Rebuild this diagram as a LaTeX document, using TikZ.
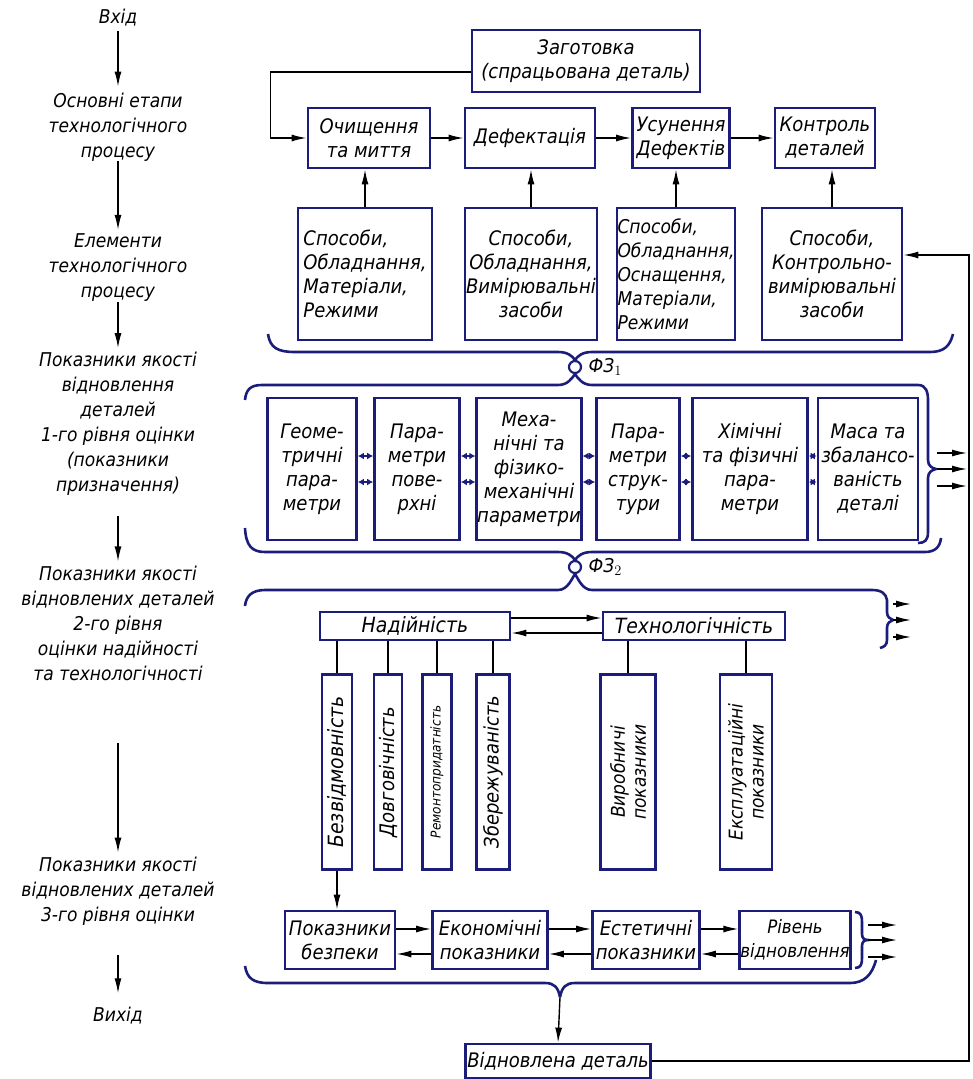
\documentclass[tikz,border=0pt]{standalone}
\usepackage{fontspec}
\setmainfont{DejaVu Sans}[FakeStretch=0.9]
\usetikzlibrary{arrows.meta,positioning}
\definecolor{ink}{HTML}{1C1C7A}
\tikzset{
  blk/.style   = {draw=ink, line width=2.8pt, fill=white, align=center, inner sep=0.5pt, font=\itshape\fontsize{20}{24}\selectfont},
  arr/.style   = {black, ->, >={Latex[length=15pt,width=7pt]}, line width=1.4pt},
  link/.style  = {ink, <->, >={Latex[length=6pt,width=7pt]}, line width=2.4pt},
  tie/.style   = {black, line width=1.4pt},
  brace/.style = {ink, line width=2.6pt},
  knot/.style  = {circle, draw=ink, line width=2.2pt, inner sep=0pt, minimum size=12},
  stage/.style = {align=center, inner sep=0pt, font=\itshape\fontsize{19}{25}\selectfont},
}

\begin{document}
\begin{tikzpicture}[x=1pt,y=-1pt]
      \useasboundingbox (0,0) rectangle (973,1079);

      % stages, left column
      \node[stage] (in) at (118,18) {Вхід};
      \node[stage] (st1) at (118,127) {Основні етапи\\технологічного\\процесу};
      \node[stage] (st2) at (118,268) {Елементи\\технологічного\\процесу};
      \node[stage] (st3) at (118,424) {Показники якості\\відновлення\\деталей\\1-го рівня оцінки\\(показники\\призначення)};
      \node[stage] (st4) at (118,623) {Показники якості\\відновлених деталей\\2-го рівня\\оцінки надійності\\та технологічності};
      \node[stage] (st5) at (118,891) {Показники якості\\відновлених деталей\\3-го рівня оцінки};
      \node[stage] (out) at (118,1016) {Вихід};

      \draw[arr, shorten <=4pt, shorten >=6pt] (in) -- (st1);
      \draw[arr, shorten >=4pt] (st1) -- (st2);
      \draw[arr, shorten >=4pt] (st2) -- (st3);
      \draw[arr, shorten <=20pt, shorten >=4pt] (st3) -- (st4);
      \draw[arr, shorten <=62pt, shorten >=4pt] (st4) -- (st5);
      \draw[arr, shorten <=30pt, shorten >=14pt] (st5) -- (out);

      % process stages
      \node[blk, minimum width=228, minimum height=62] (blank) at (586,61) {Заготовка\\(спрацьована деталь)};
      \node[blk, minimum width=122, minimum height=60] (wash) at (369,138) {Очищення\\та миття};
      \node[blk, minimum width=130, minimum height=60] (defect) at (530,138) {Дефектація};
      \node[blk, minimum width=97, minimum height=60] (repair) at (681,138) {Усунення\\Дефектів};
      \node[blk, minimum width=100, minimum height=60] (check) at (825,138) {Контроль\\деталей};

      \draw[arr] ([yshift=-11pt]blank.west) -- ++(-200,0) |- (wash.west);
      \draw[arr] (wash) -- (defect);
      \draw[arr] (defect) -- (repair);
      \draw[arr] (repair) -- (check);

      % elements of the process
      \node[blk, align=left, minimum width=134, minimum height=132] (tool1) at (365,274) {Способи,\\Обладнання,\\Матеріали,\\Режими};
      \node[blk, minimum width=132, minimum height=132] (tool2) at (531,274) {Способи,\\Обладнання,\\Вимірювальні\\засоби};
      \node[blk, align=left, minimum width=118, minimum height=132, font=\itshape\fontsize{19}{24}\selectfont] (tool3) at (676,274) {Способи,\\Обладнання,\\Оснащення,\\Матеріали,\\Режими};
      \node[blk, minimum width=140, minimum height=132] (tool4) at (832,274) {Способи,\\Контрольно-\\вимірювальні\\засоби};

      \draw[arr] (tool1.north) -- (tool1.north |- wash.south);
      \draw[arr] (tool2.north) -- (tool2.north |- defect.south);
      \draw[arr] (tool3.north) -- (tool3.north |- repair.south);
      \draw[arr] (tool4.north) -- (tool4.north |- check.south);

      % first link
      \node[knot] (fz1) at (575,367) {};
      \node[right=3pt of fz1, font=\itshape\fontsize{19}{20}\selectfont] (fz1t) {ФЗ$_1$};
      \draw[brace] (268,334) .. controls (270,348) and (278,352) .. (295,352) -- (558,352) .. controls (568,352) and (572,356) .. (fz1.north);
      \draw[brace] (fz1.north) .. controls (578,356) and (582,352) .. (592,352) -- (930,352) .. controls (944,352) and (950,346) .. (953,334);
      \draw[brace] (fz1.south) .. controls (572,378) and (568,385) .. (558,385) -- (262,385) .. controls (250,385) and (246,390) .. (245,400);
      \draw[brace] (fz1.south) .. controls (578,378) and (582,385) .. (592,385) -- (918,385) .. controls (926,385) and (928,392) .. (928,400) -- (928,460) .. controls (928,466) and (932,468) .. (936,469) .. controls (932,470) and (928,472) .. (928,478) -- (928,532) .. controls (928,540) and (925,543) .. (918,543);

      % quality indices, level 1
      \begin{scope}[every node/.append style={font=\itshape\fontsize{17.5}{24}\selectfont}]
      \node[blk, minimum width=89, minimum height=142] (geo) at (312,469) {Геоме-\\тричні\\пара-\\метри};
      \node[blk, minimum width=85, minimum height=142] (surf) at (417,469) {Пара-\\метри\\пове-\\рхні};
      \node[blk, minimum width=102, minimum height=142] (mech) at (529,469) {Меха-\\нічні та\\фізико-\\механічні\\параметри};
      \node[blk, minimum width=83, minimum height=142] (struct) at (638,469) {Пара-\\метри\\струк-\\тури};
      \node[blk, minimum width=115, minimum height=142] (chem) at (750,469) {Хімічні\\та фізичні\\пара-\\метри};
      \node[blk, minimum width=100, minimum height=142] (mass) at (868,469) {Маса та\\збалансо-\\ваність\\деталі};
      \end{scope}

      \foreach \a/\b in {geo/surf,surf/mech,mech/struct,struct/chem,chem/mass} {
        \draw[link] ([yshift=13pt]\a.east) -- ([yshift=13pt]\b.west);
        \draw[link] ([yshift=-13pt]\a.east) -- ([yshift=-13pt]\b.west);
      }
      \coordinate (cusp3) at (937,469);
      \foreach \dy in {16,0,-17}
        \draw[arr] ([yshift=\dy pt]cusp3) -- ++(30,0);

      % second link
      \node[knot] (fz2) at (575,567) {};
      \node[right=3pt of fz2, font=\itshape\fontsize{19}{20}\selectfont] (fz2t) {ФЗ$_2$};
      \draw[brace] (245,528) .. controls (246,546) and (252,552) .. (265,552) -- (558,552) .. controls (568,552) and (572,556) .. (fz2.north);
      \draw[brace] (fz2.north) .. controls (578,556) and (582,552) .. (592,552) -- (925,552) .. controls (935,552) and (940,547) .. (941,538);
      \draw[brace] (fz2.south) .. controls (572,578) and (568,590) .. (558,590) -- (265,590) .. controls (252,590) and (246,596) .. (245,606);
      \draw[brace] (fz2.south) .. controls (578,578) and (582,590) .. (592,590) -- (872,590) .. controls (882,590) and (886,594) .. (887,600) -- (887,612) .. controls (887,617) and (890,619) .. (893,620) .. controls (890,621) and (887,623) .. (887,628) -- (887,640) .. controls (887,645) and (884,647) .. (880,648);
      \coordinate (cusp4) at (893,620);
      \foreach \dy in {16,0,-17}
        \draw[arr] ([yshift=\dy pt]cusp4) -- ++(18,0);

      % quality indices, level 2
      \node[blk, minimum width=190, minimum height=28, font=\itshape\fontsize{21}{24}\selectfont] (rel) at (415,626) {Надійність};
      \node[blk, minimum width=182, minimum height=28, font=\itshape\fontsize{21}{24}\selectfont] (tech) at (694,626) {Технологічність};
      \draw[arr] ([yshift=8pt]rel.east) -- ([yshift=8pt]tech.west);
      \draw[arr] ([yshift=-7pt]tech.west) -- ([yshift=-7pt]rel.east);

      \node[blk, rotate=90, minimum width=195, minimum height=30, font=\itshape\fontsize{21}{22}\selectfont] (v1) at (337,772) {Безвідмовність};
      \node[blk, rotate=90, minimum width=195, minimum height=28, font=\itshape\fontsize{20}{22}\selectfont] (v2) at (388,772) {Довговічність};
      \node[blk, rotate=90, minimum width=195, minimum height=29, font=\itshape\fontsize{13.5}{16}\selectfont] (v3) at (437,772) {Ремонтопридатність};
      \node[blk, rotate=90, minimum width=195, minimum height=33, font=\itshape\fontsize{20}{22}\selectfont] (v4) at (493,772) {Збережуваність};
      \node[blk, rotate=90, minimum width=195, minimum height=55, font=\itshape\fontsize{19}{21}\selectfont] (v5) at (628,772) {Виробничі\\показники};
      \node[blk, rotate=90, minimum width=195, minimum height=52, font=\itshape\fontsize{19}{21}\selectfont] (v6) at (746,772) {Експлуатаційні\\показники};

      \foreach \v in {v1,v2,v3,v4}
        \draw[tie] (\v.east) -- (\v.east |- rel.south);
      \foreach \v in {v5,v6}
        \draw[tie] (\v.east) -- (\v.east |- tech.south);

      % quality indices, level 3
      \node[blk, minimum width=110, minimum height=58] (safe) at (340,940) {Показники\\безпеки};
      \node[blk, minimum width=115, minimum height=58] (econ) at (490,940) {Економічні\\показники};
      \node[blk, minimum width=107, minimum height=58] (aest) at (646,940) {Естетичні\\показники};
      \node[blk, minimum width=110, minimum height=58, font=\itshape\fontsize{18.5}{24}\selectfont] (lvl) at (795,940) {Рівень\\відновлення};

      \draw[arr] (v1.west) -- (v1.west |- safe.north);
      \foreach \a/\b in {safe/econ,econ/aest,aest/lvl} {
        \draw[arr] ([yshift=11pt]\a.east) -- ([yshift=11pt]\b.west);
        \draw[arr] ([yshift=-14pt]\b.west) -- ([yshift=-14pt]\a.east);
      }
      \draw[brace] (855,912) .. controls (861,912) and (862,916) .. (862,922) -- (862,934) .. controls (862,938) and (864,940) .. (868,940) .. controls (864,940) and (862,942) .. (862,946) -- (862,958) .. controls (862,964) and (861,968) .. (855,968);
      \coordinate (cusp5) at (868,940);
      \foreach \dy in {15,0,-17}
        \draw[arr] ([yshift=\dy pt]cusp5) -- ++(29,0);

      % restored part
      \coordinate (tip5) at (560,997);
      \draw[brace] (245,966) .. controls (247,978) and (253,983) .. (268,983) -- (545,983) .. controls (554,983) and (558,987) .. (tip5);
      \draw[brace] (tip5) .. controls (562,987) and (566,983) .. (575,983) -- (850,983) .. controls (864,983) and (872,975) .. (876,960);
      \node[blk, minimum width=185, minimum height=34] (done) at (558,1061) {Відновлена деталь};
      \draw[arr] (tip5) -- (done.north);

      \coordinate (rim) at (969,0);
      \coordinate (fb) at ([yshift=19pt]tool4.east);
      \draw[arr] (done.east) -| (rim |- fb) -- (fb);
\end{tikzpicture}
\end{document}
